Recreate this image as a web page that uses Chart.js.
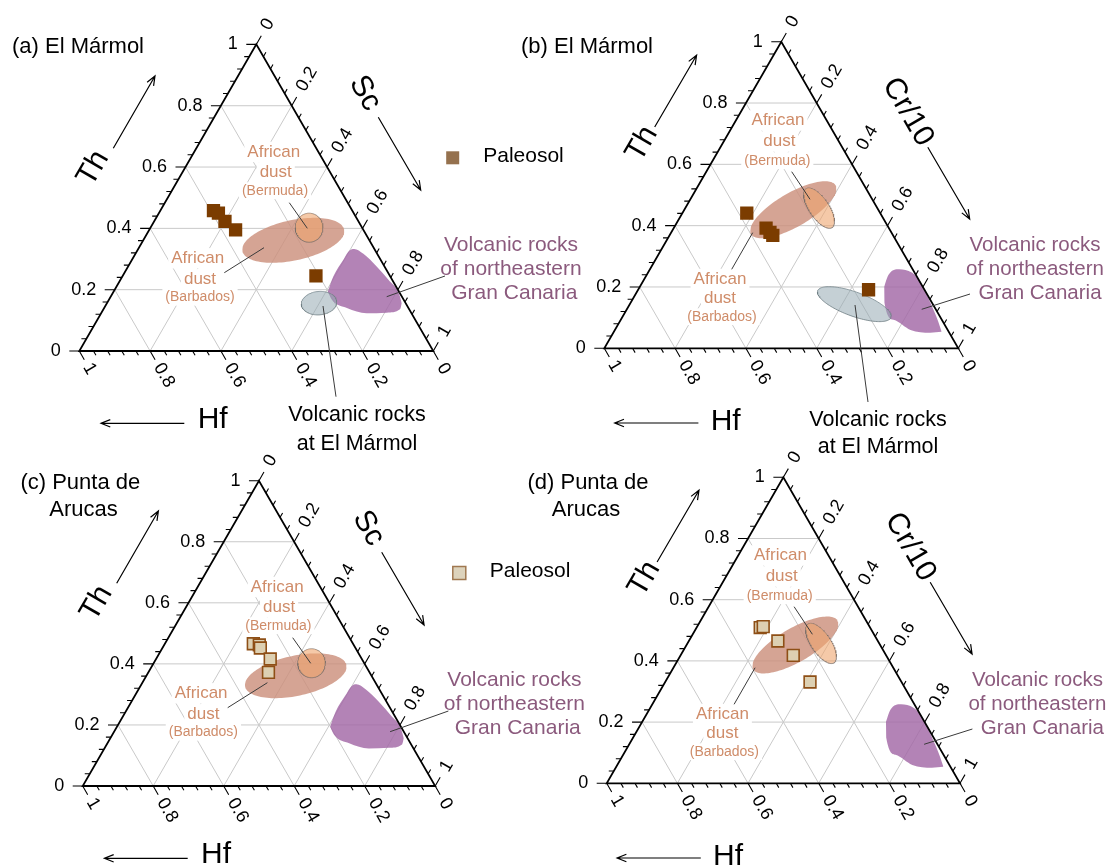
<!DOCTYPE html>
<html>
<head>
<meta charset="utf-8">
<script src="https://cdn.jsdelivr.net/npm/chart.js@4.4.1/dist/chart.umd.min.js"></script>
<style>
  html, body { margin: 0; padding: 0; background: #fff; width: 1109px; height: 865px; overflow: hidden; }
  canvas { position: absolute; }
</style>
</head>
<body>
<canvas id="chartA" width="600" height="460" style="left:0px;top:0px"></canvas>
<canvas id="chartB" width="600" height="460" style="left:520px;top:0px"></canvas>
<canvas id="chartC" width="600" height="440" style="left:0px;top:430px"></canvas>
<canvas id="chartD" width="600" height="440" style="left:520px;top:430px"></canvas>
<script>
const FONT = '"Liberation Sans", Arial, Helvetica, sans-serif';
const H3 = Math.sqrt(3) / 2;
const DUST = '#cf8c69';
const PURPLE = '#8b5a7d';

// ternary axes, same on all three sides
const tickValues = [0, 0.2, 0.4, 0.6, 0.8, 1];
const tickLabels = ['0', '0.2', '0.4', '0.6', '0.8', '1'];
const minorStep = 0.04;
const gridValues = [0.2, 0.4, 0.6, 0.8];

// paleosol samples (fractions). third member: Hf = 1 - Th - Sc (or Cr/10)
const thA = [0.458, 0.450, 0.423, 0.395, 0.245];
const scA = [0.150, 0.168, 0.200, 0.244, 0.546];
const thB = [0.441, 0.392, 0.378, 0.368, 0.191];
const crB = [0.182, 0.261, 0.279, 0.292, 0.651];
const thC = [0.466, 0.462, 0.452, 0.416, 0.372];
const scC = [0.251, 0.270, 0.278, 0.324, 0.341];
const thD = [0.509, 0.512, 0.465, 0.418, 0.331];
const crD = [0.180, 0.187, 0.252, 0.319, 0.410];

// reference fields as ellipses: Th, Sc (or Cr/10) of centre, half axes (part of side), tilt in deg
const barbadosSc = [0.361, 0.424, 0.147, 0.057, 12];
const bermudaSc  = [0.402, 0.448, 0.039, 0.041, 0];
const marmolSc   = [0.156, 0.599, 0.050, 0.033, 5];
const barbadosCr = [0.452, 0.308, 0.138, 0.048, 30];
const bermudaCr  = [0.457, 0.378, 0.066, 0.028, -56];
const marmolCr   = [0.144, 0.634, 0.110, 0.034, -20];

// volcanic rocks of northeastern Gran Canaria, outline of the field
const canariaThSc = [0.333, 0.317, 0.276, 0.227, 0.194, 0.156, 0.136, 0.125, 0.123, 0.140, 0.167, 0.194, 0.243, 0.297, 0.327];
const canariaScSc = [0.610, 0.644, 0.702, 0.764, 0.804, 0.833, 0.838, 0.806, 0.750, 0.686, 0.630, 0.605, 0.596, 0.597, 0.599];
const canariaThCr = [0.258, 0.247, 0.218, 0.152, 0.087, 0.054, 0.051, 0.060, 0.093, 0.147, 0.201, 0.240];
const canariaCrCr = [0.704, 0.745, 0.783, 0.844, 0.900, 0.926, 0.895, 0.835, 0.771, 0.718, 0.690, 0.683];

const toXY = (th, s) => ({ x: s + th / 2, y: th });

function ellipseLoop(f) {
    const [th, s, a, b, tilt] = f;
    const cx = s + th / 2, cy = th * H3, t = tilt * Math.PI / 180;
    const pts = [];
    for (let i = 0; i < 120; i++) {
        const p = i / 120 * 2 * Math.PI;
        const u = a * Math.cos(p), w = b * Math.sin(p);
        pts.push({ x: cx + u * Math.cos(t) - w * Math.sin(t), y: (cy + u * Math.sin(t) + w * Math.cos(t)) / H3 });
    }
    return pts;
}

// split a closed outline into two x-sorted chains (left end to right end)
function splitLoop(pts) {
    const n = pts.length;
    let iMin = 0, iMax = 0;
    pts.forEach((p, i) => {
        if (p.x < pts[iMin].x) iMin = i;
        if (p.x > pts[iMax].x) iMax = i;
    });
    const up = [], down = [];
    for (let i = iMin; ; i = (i + 1) % n) { up.push(pts[i]); if (i === iMax) break; }
    for (let i = iMin; ; i = (i - 1 + n) % n) { down.push(pts[i]); if (i === iMax) break; }
    return [up, down];
}

function fieldSets(pts, style, order) {
    const [up, down] = splitLoop(pts);
    const base = { showLine: true, pointRadius: 0, borderWidth: 1, borderColor: 'rgba(0,0,0,0)', order: order };
    return [
        Object.assign({ data: up, fill: '+1' }, base, style),
        Object.assign({ data: down, fill: false }, base, style),
    ];
}

function px(chart, th, s) {
    return [chart.scales.x.getPixelForValue(s + th / 2), chart.scales.y.getPixelForValue(th)];
}

function seg(ctx, a, b) {
    ctx.moveTo(a[0], a[1]);
    ctx.lineTo(b[0], b[1]);
}

function label(ctx, str, x, y, size, color, align, rot, boxed) {
    ctx.save();
    ctx.translate(x, y);
    if (rot) ctx.rotate(rot * Math.PI / 180);
    ctx.font = size + 'px ' + FONT;
    ctx.textAlign = align;
    ctx.textBaseline = 'middle';
    if (boxed) {
        const w = ctx.measureText(str).width;
        const x0 = align === 'center' ? -w / 2 : (align === 'right' ? -w : 0);
        ctx.fillStyle = '#fff';
        ctx.fillRect(x0 - 3, -size * 0.6, w + 6, size * 1.2);
    }
    ctx.fillStyle = color;
    ctx.fillText(str, 0, 0);
    ctx.restore();
}

function arrow(ctx, x1, y1, x2, y2) {
    const a = Math.atan2(y2 - y1, x2 - x1), L = 10, s = 0.38;
    ctx.beginPath();
    ctx.moveTo(x1, y1);
    ctx.lineTo(x2, y2);
    ctx.moveTo(x2 - L * Math.cos(a - s), y2 - L * Math.sin(a - s));
    ctx.lineTo(x2, y2);
    ctx.lineTo(x2 - L * Math.cos(a + s), y2 - L * Math.sin(a + s));
    ctx.stroke();
}

function decor(cfg) {
    return {
        id: 'ternaryDecor',
        beforeDatasetsDraw(chart) {
            const ctx = chart.ctx;
            ctx.save();
            ctx.strokeStyle = '#c9c9c9';
            ctx.lineWidth = 1;
            ctx.beginPath();
            gridValues.forEach(v => {
                seg(ctx, px(chart, v, 0), px(chart, v, 1 - v));
                seg(ctx, px(chart, 0, v), px(chart, 1 - v, v));
                seg(ctx, px(chart, 0, 1 - v), px(chart, 1 - v, 0));
            });
            ctx.stroke();
            const [bx, by] = px(chart, 0, 0);
            cfg.boxed.forEach(([str, dx, dy, size]) => label(ctx, str, bx + dx, by + dy, size, DUST, 'center', 0, true));
            ctx.restore();
        },
        afterDatasetsDraw(chart) {
            const ctx = chart.ctx;
            const [bx, by] = px(chart, 0, 0);
            ctx.save();
            // frame
            ctx.strokeStyle = '#000';
            ctx.lineWidth = 1.8;
            ctx.beginPath();
            const A = px(chart, 0, 0), B = px(chart, 0, 1), T = px(chart, 1, 0);
            ctx.moveTo(A[0], A[1]); ctx.lineTo(B[0], B[1]); ctx.lineTo(T[0], T[1]); ctx.closePath();
            ctx.stroke();
            // ticks
            ctx.lineWidth = 1.1;
            ctx.beginPath();
            for (let k = 0; k <= Math.round(1 / minorStep); k++) {
                const v = k * minorStep;
                const len = k % 5 === 0 ? 10 : 5;
                let [x, y] = px(chart, v, 0);
                seg(ctx, [x, y], [x - len, y]);
                [x, y] = px(chart, 1 - v, v);
                seg(ctx, [x, y], [x + len * 0.5, y - len * H3]);
                [x, y] = px(chart, 0, 1 - v);
                seg(ctx, [x, y], [x + len * 0.5, y + len * H3]);
            }
            ctx.stroke();
            tickValues.forEach((v, i) => {
                const s = tickLabels[i];
                let [x, y] = px(chart, v, 0);
                label(ctx, s, x - 18.5, y, 18, '#000', 'right', 0);
                [x, y] = px(chart, 1 - v, v);
                label(ctx, s, x + 0.5 * 18, y - H3 * 18, 18, '#000', 'left', -60);
                [x, y] = px(chart, 0, 1 - v);
                label(ctx, s, x + 0.5 * 15.5, y + H3 * 15.5, 18, '#000', 'left', 60);
            });
            // axis names and arrows
            cfg.axisNames.forEach(([str, dx, dy, rot]) => label(ctx, str, bx + dx, by + dy, 30, '#000', 'center', rot));
            ctx.strokeStyle = '#000';
            ctx.lineWidth = 1.2;
            cfg.arrows.forEach(a => arrow(ctx, bx + a[0], by + a[1], bx + a[2], by + a[3]));
            // leader lines
            ctx.strokeStyle = '#3a3a3a';
            ctx.lineWidth = 1;
            ctx.beginPath();
            cfg.leaders.forEach(l => seg(ctx, [bx + l[0], by + l[1]], [bx + l[2], by + l[3]]));
            ctx.stroke();
            cfg.texts.forEach(([str, dx, dy, size, color, align]) => label(ctx, str, bx + dx, by + dy, size, color, align || 'center', 0));
            if (cfg.legend) {
                const g = cfg.legend;
                ctx.fillStyle = g.fill;
                ctx.fillRect(bx + g.dx - 6.5, by + g.dy - 6.5, 13, 13);
                if (g.stroke) {
                    ctx.strokeStyle = g.stroke;
                    ctx.lineWidth = 1.5;
                    ctx.strokeRect(bx + g.dx - 6.5, by + g.dy - 6.5, 13, 13);
                }
                label(ctx, 'Paleosol', bx + g.dx + 30.5, by + g.dy - 1.5, 21, '#000', 'left', 0);
            }
            ctx.restore();
        }
    };
}

// annotation layout, in px from the Hf corner of each triangle
const scLayout = {
    axisNames: [['Th', 14, -182.7, -60], ['Sc', 285.7, -257.7, 60], ['Hf', 133.4, 68.3, 0]],
    arrows: [[34, -202.7, 75.7, -275], [299, -233.7, 341.4, -161], [105, 72.3, 21.7, 72.3]],
    boxed: [['African', 194.5, -199, 17], ['dust', 196.4, -178.7, 17], ['(Bermuda)', 195.7, -160.3, 14],
            ['African', 118.4, -92.7, 17], ['dust', 120.7, -71.7, 17], ['(Barbados)', 120.7, -53.7, 14]],
    texts: [['Volcanic rocks', 431.7, -106, 21, PURPLE], ['of northeastern', 431.7, -82, 21, PURPLE], ['Gran Canaria', 435, -58, 21, PURPLE]],
    leaders: [[210, -148.3, 228, -122.7], [145, -78.3, 184.7, -103.3], [365.7, -75, 307.4, -54.3]],
};
const crLayout = {
    axisNames: [['Th', 37.7, -204.5, -60], ['Cr/10', 303.5, -236.3, 60], ['Hf', 121.4, 73.1, 0]],
    arrows: [[50.4, -221.3, 92.3, -293.1], [323.5, -201.1, 365.4, -129.3], [94.1, 74.7, 10.4, 74.7]],
    boxed: [['African', 173.7, -227.8, 17], ['dust', 175, -206.8, 17], ['(Bermuda)', 173, -187.6, 14],
            ['African', 115.7, -69.3, 17], ['dust', 115.7, -49.8, 17], ['(Barbados)', 117.7, -31.6, 14]],
    texts: [['Volcanic rocks', 430.7, -103, 20.5, PURPLE], ['of northeastern', 430.7, -79, 20.5, PURPLE], ['Gran Canaria', 435.7, -55, 20.5, PURPLE]],
    leaders: [[187.4, -176.6, 205.7, -149], [127.4, -79, 148.4, -115.6], [365.7, -54.3, 317.4, -39]],
};

function withExtra(base, extra) {
    return {
        axisNames: base.axisNames, arrows: base.arrows, boxed: base.boxed,
        texts: base.texts.concat(extra.texts || []),
        leaders: base.leaders.concat(extra.leaders || []),
        legend: extra.legend,
    };
}

const layoutA = withExtra(scLayout, {
    texts: [['(a) El Mármol', -67.3, -304, 22, '#000', 'left'],
            ['Volcanic rocks', 277.7, 64, 21.5, '#000'], ['at El Mármol', 277.7, 93, 21.5, '#000']],
    leaders: [[243.7, -45, 256.7, 45.7]],
    legend: { dx: 373.4, dy: -193.2, fill: '#95714e' },
});
const layoutB = withExtra(crLayout, {
    texts: [['(b) El Mármol', -83.3, -301.3, 22, '#000', 'left'],
            ['Volcanic rocks', 273.7, 71.7, 21.5, '#000'], ['at El Mármol', 273.7, 98.7, 21.5, '#000']],
    leaders: [[250.7, -43.3, 263.7, 53.7]],
});
const layoutC = withExtra(scLayout, {
    texts: [['(c) Punta de', -2.4, -302.7, 22, '#000'], ['Arucas', 0.8, -276, 22, '#000']],
    legend: { dx: 376.6, dy: -213, fill: '#ddd3bc', stroke: '#a07850' },
});
const layoutD = withExtra(crLayout, {
    texts: [['(d) Punta de', -18.7, -300.3, 22, '#000'], ['Arucas', -20.7, -273.3, 22, '#000']],
});

const barbadosStyle = { backgroundColor: 'rgba(204,144,124,0.82)' };
const bermudaStyle = { backgroundColor: 'rgba(238,165,110,0.6)', borderColor: 'rgba(120,110,105,0.8)', borderWidth: 1 };
const canariaStyle = { backgroundColor: 'rgba(162,104,166,0.82)', cubicInterpolationMode: 'monotone' };
const marmolStyle = { backgroundColor: 'rgba(150,170,178,0.55)', borderColor: 'rgba(110,125,130,0.8)', borderWidth: 1 };

function markerSet(th, s, filled) {
    return {
        data: th.map((t, i) => toXY(t, s[i])),
        showLine: false,
        pointStyle: 'rect',
        pointRadius: filled ? 9.4 : 8.3,
        pointBackgroundColor: filled ? '#7b3c00' : '#ddd0b2',
        pointBorderColor: filled ? '#7b3c00' : '#8e4f16',
        pointBorderWidth: filled ? 0 : 1.6,
        order: 0,
    };
}

function build(id, pad, datasets, layout) {
    new Chart(document.getElementById(id), {
        type: 'line',
        data: { datasets: datasets },
        options: {
            responsive: false,
            animation: false,
            events: [],
            layout: { padding: pad },
            scales: {
                x: { type: 'linear', min: 0, max: 1, display: false },
                y: { type: 'linear', min: 0, max: 1, display: false },
            },
            plugins: { legend: { display: false }, tooltip: { enabled: false } },
        },
        plugins: [decor(layout)],
    });
}

const canariaSc = canariaThSc.map((t, i) => toXY(t, canariaScSc[i]));
const canariaCr = canariaThCr.map((t, i) => toXY(t, canariaCrCr[i]));

build('chartA', { left: 79.3, top: 44.4, right: 166.7, bottom: 109 }, [
    markerSet(thA, scA, true),
    ...fieldSets(ellipseLoop(marmolSc), marmolStyle, 1),
    ...fieldSets(canariaSc, canariaStyle, 2),
    ...fieldSets(ellipseLoop(bermudaSc), bermudaStyle, 3),
    ...fieldSets(ellipseLoop(barbadosSc), barbadosStyle, 4),
], layoutA);

build('chartB', { left: 84.3, top: 41.7, right: 161.7, bottom: 111.7 }, [
    markerSet(thB, crB, true),
    ...fieldSets(ellipseLoop(marmolCr), marmolStyle, 1),
    ...fieldSets(canariaCr, canariaStyle, 2),
    ...fieldSets(ellipseLoop(bermudaCr), bermudaStyle, 3),
    ...fieldSets(ellipseLoop(barbadosCr), barbadosStyle, 4),
], layoutB);

build('chartC', { left: 82.7, top: 50.7, right: 164.8, bottom: 84 }, [
    markerSet(thC, scC, false),
    ...fieldSets(canariaSc, canariaStyle, 2),
    ...fieldSets(ellipseLoop(bermudaSc), bermudaStyle, 3),
    ...fieldSets(ellipseLoop(barbadosSc), barbadosStyle, 4),
], layoutC);

build('chartD', { left: 86.7, top: 47.3, right: 160, bottom: 86.7 }, [
    markerSet(thD, crD, false),
    ...fieldSets(canariaCr, canariaStyle, 2),
    ...fieldSets(ellipseLoop(bermudaCr), bermudaStyle, 3),
    ...fieldSets(ellipseLoop(barbadosCr), barbadosStyle, 4),
], layoutD);
</script>
</body>
</html>
